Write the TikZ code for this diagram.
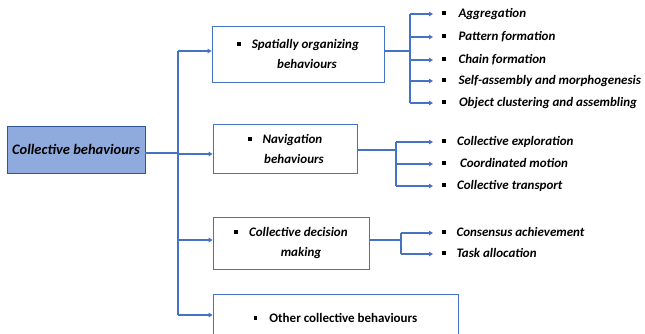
\documentclass[tikz,border=0pt]{standalone}
\usepackage{fontspec}
\setmainfont{Carlito}
\usetikzlibrary{arrows.meta}
\definecolor{lineblue}{HTML}{4472C4}
\definecolor{boxblue}{HTML}{8FAADC}
\definecolor{edgeblue}{HTML}{2F5597}
\newcommand{\bul}{\rule[2.5pt]{3.8pt}{3.8pt}}
\begin{document}
\begin{tikzpicture}[x=1pt,y=-1pt,
 catbox/.style={draw=lineblue, line width=0.8pt, align=center, inner sep=0pt, font=\fontsize{13}{20}\selectfont\bfseries\itshape},
 itemtext/.style={anchor=west, inner sep=0pt, text height=9pt, text depth=3pt, font=\fontsize{13}{15}\selectfont\bfseries\itshape},
 conn/.style={draw=lineblue, line width=1.3pt},
 arr/.style={conn, -{Triangle[length=4pt,width=4.5pt]}},
]
\clip (0,0) rectangle (645,333);
% main box
\node[draw=edgeblue, fill=boxblue, line width=0.8pt, minimum width=138pt, minimum height=47pt, inner sep=0pt, font=\fontsize{14.5}{17}\selectfont\bfseries\itshape] (m) at (76,149.5) {Collective behaviours};
% category boxes
\node[catbox, minimum width=172pt, minimum height=56pt] (b1) at (298,54) {\bul\hspace{11pt}Spatially organizing\\\hspace*{18pt}behaviours};
\node[catbox, minimum width=144pt, minimum height=49pt] (b2) at (285,148.5) {\bul\hspace{11pt}Navigation\\\hspace*{18pt}behaviours};
\node[catbox, minimum width=156pt, minimum height=52pt] (b3) at (291,243) {\bul\hspace{11pt}Collective decision\\\hspace*{20pt}making};
\node[catbox, font=\fontsize{13}{15}\selectfont\bfseries, minimum width=245pt, minimum height=48pt] (b4) at (335.5,318) {\bul\hspace{12pt}Other collective behaviours};
% items
\node[itemtext] (a1) at (442,14) {\bul\hspace{12.5pt}Aggregation};
\node[itemtext] (a2) at (442,37) {\bul\hspace{12.5pt}Pattern formation};
\node[itemtext] (a3) at (442,60) {\bul\hspace{12.5pt}Chain formation};
\node[itemtext] (a4) at (442,81) {\bul\hspace{12.5pt}Self-assembly and morphogenesis};
\node[itemtext] (a5) at (442,103) {\bul\hspace{13pt}Object clustering and assembling};
\node[itemtext] (n1) at (442,142) {\bul\hspace{11pt}Collective exploration};
\node[itemtext] (n2) at (442,164) {\bul\hspace{14pt}Coordinated motion};
\node[itemtext] (n3) at (442,186) {\bul\hspace{11pt}Collective transport};
\node[itemtext] (d1) at (442,233) {\bul\hspace{10.5pt}Consensus achievement};
\node[itemtext] (d2) at (442,254) {\bul\hspace{10.5pt}Task allocation};
% trunk
\coordinate (t) at (178,153);
\coordinate (t1) at (178,51);
\coordinate (t2) at (178,154);
\coordinate (t3) at (178,240);
\coordinate (t4) at (178,315);
\draw[conn, line width=2.2pt] (m.east |- t) -- (t);
\draw[conn] (t1) -- (t4);
\draw[arr] (t1) -- (t1 -| b1.west);
\draw[arr] (t2) -- (t2 -| b2.west);
\draw[arr] (t3) -- (t3 -| b3.west);
\draw[arr] (t4) -- (t4 -| b4.west);
% fork 1
\coordinate (f1) at (410,51);
\draw[conn, line width=1.8pt] (b1.east |- f1) -- (f1);
\draw[conn] (f1 |- a1.west) -- (f1 |- a5.west);
\foreach \n in {a1,a2,a3,a4,a5}{\draw[arr, shorten >=9pt] (f1 |- \n.west) -- (\n.west);}
% fork 2
\coordinate (f2) at (396,150);
\draw[conn, line width=1.6pt] (b2.east |- f2) -- (f2);
\draw[conn] (f2 |- n1.west) -- (f2 |- n3.west);
\foreach \n in {n1,n2,n3}{\draw[arr, shorten >=9pt] (f2 |- \n.west) -- (\n.west);}
% fork 3
\coordinate (f3) at (401,240);
\draw[conn, line width=1.6pt] (b3.east |- f3) -- (f3);
\draw[conn] (f3 |- d1.west) -- (f3 |- d2.west);
\foreach \n in {d1,d2}{\draw[arr, shorten >=9pt] (f3 |- \n.west) -- (\n.west);}
\end{tikzpicture}
\end{document}
